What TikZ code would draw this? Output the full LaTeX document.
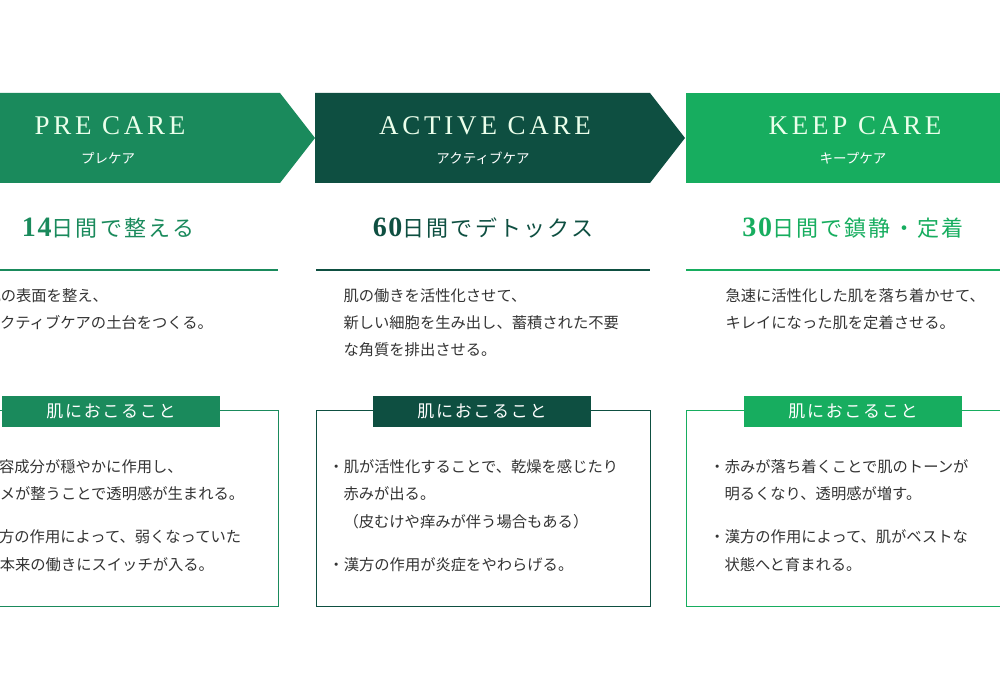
\documentclass[tikz,border=0pt]{standalone}
\usepackage{fontspec}
\setmainfont{Liberation Serif}
\newfontfamily\jp{Noto Sans CJK JP}
\newfontfamily\jpw[LetterSpace=10]{Noto Sans CJK JP}
\newfontfamily\ttl[LetterSpace=14]{Liberation Serif}
\definecolor{cA}{HTML}{1A8A5C}
\definecolor{cB}{HTML}{0E4F41}
\definecolor{cC}{HTML}{17AD5F}
\definecolor{tx}{HTML}{333333}
\begin{document}
\begin{tikzpicture}[x=1pt,y=-1pt,
 title/.style={text=white!92!green,font=\ttl\fontsize{27}{27}\selectfont},
 sub/.style={text=white,font=\jp\fontsize{13.5}{13.5}\selectfont},
 head/.style={font=\jpw\fontsize{22}{22}\selectfont},
 body/.style={text=tx,font=\jp\fontsize{15.3}{15.3}\selectfont,anchor=west},
 tab/.style={text=white,font=\jpw\fontsize{17}{17}\selectfont,minimum width=218pt,minimum height=31pt,inner sep=0},
 box/.style={line width=1pt},
 num/.style={}]
\useasboundingbox (0,0) rectangle (1000,700);
\clip (0,0) rectangle (1000,700);
% banners
\fill[cA] (-60,93) -- (280,93) -- (315,138) -- (280,183) -- (-60,183) -- cycle;
\fill[cB] (315,93) -- (650,93) -- (685,138) -- (650,183) -- (315,183) -- cycle;
\fill[cC] (686,93) -- (1010,93) -- (1010,183) -- (686,183) -- cycle;
\node[title] (t1) at (110,126) {PRE CARE};
\node[sub] (s1) at (108,158) {プレケア};
\node[title] (t2) at (485,126) {ACTIVE CARE};
\node[sub] (s2) at (483,158) {アクティブケア};
\node[title] (t3) at (855,126) {KEEP CARE};
\node[sub] (s3) at (853,158) {キープケア};
% headlines
\newcommand\bignum[1]{{\fontspec[LetterSpace=6]{Liberation Serif}\fontsize{28}{28}\selectfont\bfseries #1}}
\node[head,text=cA] (h1) at (108,228) {\bignum{14}日間で整える};
\node[head,text=cB] (h2) at (483,228) {\bignum{60}日間でデトックス};
\node[head,text=cC] (h3) at (853,228) {\bignum{30}日間で鎮静・定着};
\draw[cA,line width=1.2pt] (-60,270) -- (278,270);
\draw[cB,line width=1.2pt] (316,270) -- (650,270);
\draw[cC,line width=1.2pt] (686,270) -- (1010,270);
% descriptions
\node[body] (d1a) at (-18,296) {肌の表面を整え、};
\node[body] (d1b) at (-18,323) {アクティブケアの土台をつくる。};
\node[body] (d2a) at (340,296) {肌の働きを活性化させて、};
\node[body] (d2b) at (340,323) {新しい細胞を生み出し、蓄積された不要};
\node[body] (d2c) at (340,350) {な角質を排出させる。};
\node[body] (d3a) at (722,296) {急速に活性化した肌を落ち着かせて、};
\node[body] (d3b) at (722,323) {キレイになった肌を定着させる。};
% boxes
\draw[box,cA,fill=white] (-56,410) rectangle (278,606);
\draw[box,cB,fill=white] (316,410) rectangle (650,606);
\draw[box,cC,fill=white] (686,410) rectangle (1010,606);
\node[tab,fill=cA] (b1) at (111,411) {肌におこること};
\node[tab,fill=cB] (b2) at (482,411) {肌におこること};
\node[tab,fill=cC] (b3) at (853,411) {肌におこること};
% box texts
\node[body] (e1a) at (-35,467) {・美容成分が穏やかに作用し、};
\node[body] (e1b) at (-19,494) {キメが整うことで透明感が生まれる。};
\node[body] (e1c) at (-35,537) {・漢方の作用によって、弱くなっていた};
\node[body] (e1d) at (-19,565) {肌本来の働きにスイッチが入る。};
\node[body] (e2a) at (325,467) {・肌が活性化することで、乾燥を感じたり};
\node[body] (e2b) at (340,494) {赤みが出る。};
\node[body] (e2c) at (340,522) {（皮むけや痒みが伴う場合もある）};
\node[body] (e2d) at (325,565) {・漢方の作用が炎症をやわらげる。};
\node[body] (e3a) at (706,467) {・赤みが落ち着くことで肌のトーンが};
\node[body] (e3b) at (721,494) {明るくなり、透明感が増す。};
\node[body] (e3c) at (706,537) {・漢方の作用によって、肌がベストな};
\node[body] (e3d) at (721,565) {状態へと育まれる。};
\end{tikzpicture}
\end{document}
